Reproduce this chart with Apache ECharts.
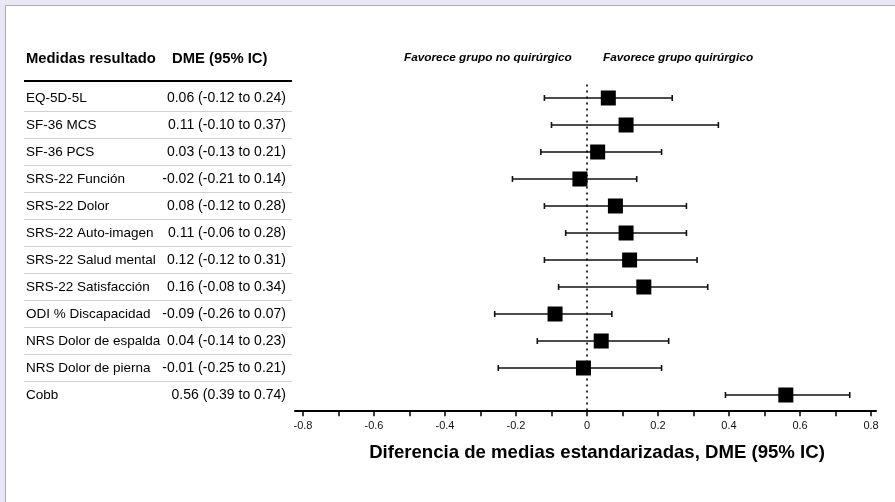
<!DOCTYPE html>
<html>
<head>
<meta charset="utf-8">
<script src="https://cdn.jsdelivr.net/npm/echarts@6/dist/echarts.min.js"></script>
<style>
html,body{margin:0;padding:0;background:#e9e7f4;}
#c{width:895px;height:502px;}
</style>
</head>
<body>
<div id="c"></div>
<script>
const measures = ["EQ-5D-5L","SF-36 MCS","SF-36 PCS","SRS-22 Función","SRS-22 Dolor","SRS-22 Auto-imagen","SRS-22 Salud mental","SRS-22 Satisfacción","ODI % Discapacidad","NRS Dolor de espalda","NRS Dolor de pierna","Cobb"];
const estimates = [0.06,0.11,0.03,-0.02,0.08,0.11,0.12,0.16,-0.09,0.04,-0.01,0.56];
const lower = [-0.12,-0.10,-0.13,-0.21,-0.12,-0.06,-0.12,-0.08,-0.26,-0.14,-0.25,0.39];
const upper = [0.24,0.37,0.21,0.14,0.28,0.28,0.31,0.34,0.07,0.23,0.21,0.74];
const dmeText = ["0.06 (-0.12 to 0.24)","0.11 (-0.10 to 0.37)","0.03 (-0.13 to 0.21)","-0.02 (-0.21 to 0.14)","0.08 (-0.12 to 0.28)","0.11 (-0.06 to 0.28)","0.12 (-0.12 to 0.31)","0.16 (-0.08 to 0.34)","-0.09 (-0.26 to 0.07)","0.04 (-0.14 to 0.23)","-0.01 (-0.25 to 0.21)","0.56 (0.39 to 0.74)"];
const tickValues = [-0.8,-0.7,-0.6,-0.5,-0.4,-0.3,-0.2,-0.1,0,0.1,0.2,0.3,0.4,0.5,0.6,0.7,0.8];
const labelValues = [-0.8,-0.6,-0.4,-0.2,0,0.2,0.4,0.6,0.8];

const FONT = '"Liberation Sans", Arial, sans-serif';
const chart = echarts.init(document.getElementById('c'), null, {renderer:'canvas'});

const nameData = measures.map((m,i)=>({value:[0,i], name:m}));
const dmeData = dmeText.map((t,i)=>({value:[1,i], name:t}));
const sepLines = [];
for (let i=0;i<measures.length-1;i++) sepLines.push({yAxis:i+0.5});

const option = {
  backgroundColor:'#e9e7f4',
  animation:false,
  graphic:[
    {type:'rect', left:5, top:5, shape:{width:900, height:510}, style:{fill:'#ffffff', stroke:'#a9a9b3', lineWidth:1}, z:-10},
    {type:'text', left:26, top:51, style:{text:'Medidas resultado', font:'bold 14.8px '+FONT, fill:'#000'}},
    {type:'text', left:172, top:51, style:{text:'DME (95% IC)', font:'bold 14.8px '+FONT, fill:'#000'}},
    {type:'text', left:404, top:52, style:{text:'Favorece grupo no quirúrgico', font:'italic bold 11.8px '+FONT, fill:'#000'}},
    {type:'text', left:603, top:52, style:{text:'Favorece grupo quirúrgico', font:'italic bold 11.8px '+FONT, fill:'#000'}},
    {type:'text', x:597, y:443, style:{text:'Diferencia de medias estandarizadas, DME (95% IC)', font:'bold 18.6px '+FONT, fill:'#000', textAlign:'center'}}
  ],
  grid:[
    {left:295, right:19, top:84.5, bottom:90.8},
    {left:24, width:268, top:79.1, bottom:90.8}
  ],
  xAxis:[
    {gridIndex:0, type:'value', min:-0.8225, max:0.814,
     splitLine:{show:false},
     axisLine:{show:true, onZero:false, lineStyle:{color:'#000', width:2}},
     axisTick:{show:true, length:5, customValues:tickValues, lineStyle:{color:'#000', width:1.5}},
     axisLabel:{show:true, customValues:labelValues, fontSize:11, color:'#111', fontFamily:FONT, margin:9,
       formatter:v=>{const r=Math.round(v*10)/10; return r===0?'0':String(r);}}},
    {gridIndex:1, type:'value', min:0, max:1, show:false}
  ],
  yAxis:[
    {gridIndex:0, type:'value', min:-0.5, max:11.6, inverse:true, show:false},
    {gridIndex:1, type:'value', min:-0.7, max:11.6, inverse:true, show:false}
  ],
  series:[
    {type:'custom', xAxisIndex:0, yAxisIndex:0,
     data: measures.map((m,i)=>[lower[i], upper[i], i]),
     encode:{x:[0,1], y:2},
     renderItem:function(params, api){
       const y = api.value(2);
       const p1 = api.coord([api.value(0), y]);
       const p2 = api.coord([api.value(1), y]);
       const st = {stroke:'#111', lineWidth:1.6};
       return {type:'group', children:[
         {type:'line', shape:{x1:p1[0], y1:p1[1], x2:p2[0], y2:p2[1]}, style:st},
         {type:'line', shape:{x1:p1[0], y1:p1[1]-3, x2:p1[0], y2:p1[1]+3}, style:st},
         {type:'line', shape:{x1:p2[0], y1:p2[1]-3, x2:p2[0], y2:p2[1]+3}, style:st}
       ]};
     },
     markLine:{silent:true, symbol:'none', label:{show:false},
       lineStyle:{type:[2,4], color:'#000', width:1.6},
       data:[{xAxis:0}]},
     z:2
    },
    {type:'scatter', xAxisIndex:0, yAxisIndex:0,
     data: estimates.map((e,i)=>[e,i]),
     symbol:'rect', symbolSize:15, itemStyle:{color:'#000', opacity:1}, z:5},
    {type:'scatter', xAxisIndex:1, yAxisIndex:1, data:nameData, symbolSize:0, itemStyle:{opacity:1},
     label:{show:true, position:'right', distance:2, formatter:p=>p.name, fontSize:13.5, color:'#000', fontFamily:FONT},
     markLine:{silent:true, symbol:'none', label:{show:false},
       lineStyle:{type:'solid', color:'#d0d0d0', width:1},
       data: sepLines.concat([{yAxis:-0.63, lineStyle:{color:'#000', width:2}}])}
    },
    {type:'scatter', xAxisIndex:1, yAxisIndex:1, data:dmeData, symbolSize:0, itemStyle:{opacity:1},
     label:{show:true, position:'left', distance:6, formatter:p=>p.name, fontSize:14, color:'#000', fontFamily:FONT}}
  ]
};
chart.setOption(option);
</script>
</body>
</html>
